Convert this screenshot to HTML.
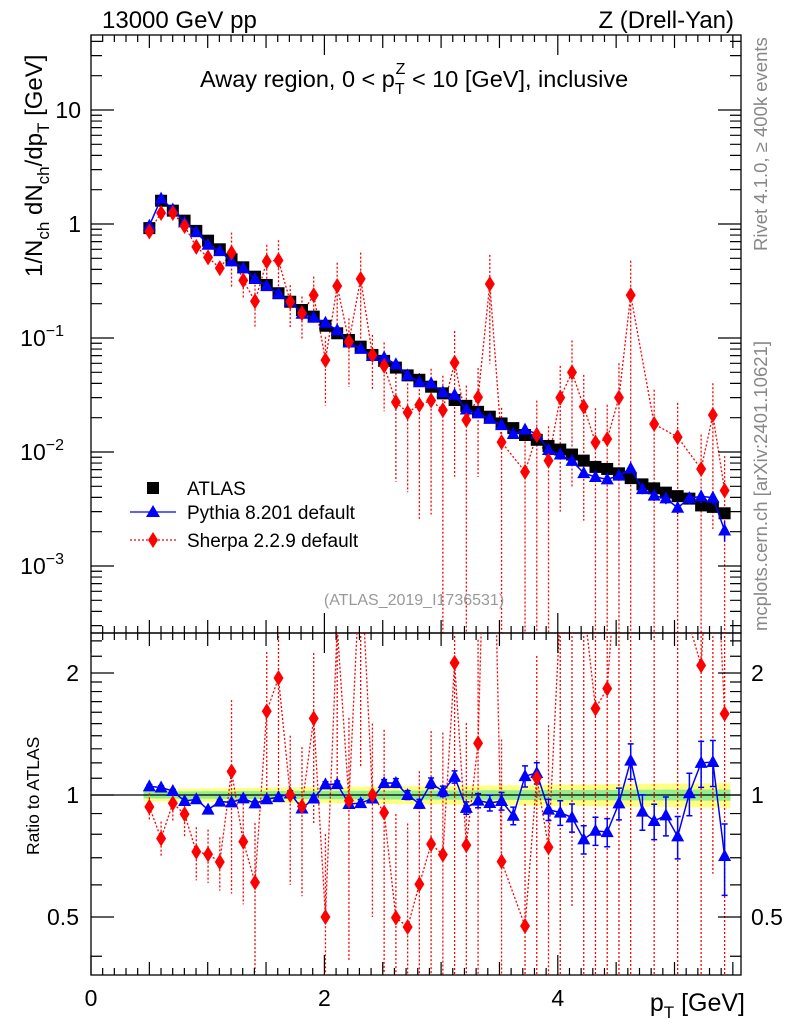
<!DOCTYPE html>
<html><head><meta charset="utf-8"><style>
html,body{margin:0;padding:0;background:#fff;width:786px;height:1024px;overflow:hidden;}
svg{display:block;font-family:"Liberation Sans",Arial,sans-serif;}
</style></head><body>
<svg id="chart" width="786" height="1024" viewBox="0 0 786 1024" xmlns="http://www.w3.org/2000/svg">
<rect x="0" y="0" width="786" height="1024" fill="#fff"/>
<g id="main-panel"></g>
<g id="ratio-panel"></g>
<text x="102" y="28" font-size="24">13000 GeV pp</text>
<text x="734" y="28" font-size="24" text-anchor="end">Z (Drell-Yan)</text>
<text x="200" y="87" font-size="23.5">Away region, 0 &lt; p<tspan font-size="16" dy="7">T</tspan><tspan font-size="16" dx="-9" dy="-20">Z</tspan><tspan dy="13"> &lt; 10 [GeV], inclusive</tspan></text>
<text transform="translate(42,277) rotate(-90)" font-size="24">1/N<tspan font-size="17" dy="7">ch</tspan><tspan dy="-7"> dN</tspan><tspan font-size="17" dy="7">ch</tspan><tspan dy="-7">/dp</tspan><tspan font-size="17" dy="7">T</tspan><tspan dy="-7"> [GeV]</tspan></text>
<text transform="translate(767,251) rotate(-90)" font-size="18.5" fill="#888">Rivet 4.1.0, ≥ 400k events</text>
<text transform="translate(767,631) rotate(-90)" font-size="18.5" fill="#888">mcplots.cern.ch [arXiv:2401.10621]</text>
<text x="414" y="605" font-size="16" fill="#999" text-anchor="middle">(ATLAS_2019_I1736531)</text>
<text transform="translate(39,855) rotate(-90)" font-size="17.5">Ratio to ATLAS</text>
<text x="745" y="1011" font-size="25" text-anchor="end">p<tspan font-size="17" dy="7">T</tspan><tspan dy="-7"> [GeV]</tspan></text>
<g>
<rect x="147" y="482" width="12" height="12" fill="#000"/>
<text x="187" y="495" font-size="19">ATLAS</text>
<line x1="130" y1="512" x2="176" y2="512" stroke="#00f" stroke-width="1.3"/>
<polygon points="153,505 146,517 160,517" fill="#00f"/>
<text x="187" y="519" font-size="19">Pythia 8.201 default</text>
<line x1="130" y1="540" x2="176" y2="540" stroke="#f00" stroke-width="1.3" stroke-dasharray="2,2"/>
<polygon points="153,532 158,540 153,548 148,540" fill="#f00"/>
<text x="187" y="547" font-size="19">Sherpa 2.2.9 default</text>
</g>
</svg>
<script>
const atlas=[0.92,1.6,1.31,1.07,0.87,0.714,0.60,0.49,0.417,0.345,0.292,0.247,0.208,0.176,0.154,0.128,0.110,0.096,0.084,0.071,0.063,0.055,0.047,0.043,0.0374,0.0327,0.0286,0.0254,0.0225,0.0204,0.0178,0.0162,0.0141,0.0128,0.0113,0.0105,0.0095,0.0084,0.0074,0.0071,0.0065,0.0059,0.0052,0.0048,0.0044,0.0041,0.0039,0.0034,0.0033,0.0029];
const pythia=[0.966,1.67,1.34,1.034,0.849,0.657,0.578,0.470,0.409,0.329,0.285,0.244,0.210,0.163,0.151,0.136,0.117,0.0912,0.0802,0.0696,0.0674,0.0589,0.047,0.0409,0.0400,0.0334,0.0317,0.0236,0.0218,0.0195,0.0172,0.0144,0.0157,0.0145,0.0104,0.0095,0.00836,0.00653,0.00604,0.00575,0.0062,0.00717,0.00473,0.00414,0.00392,0.00324,0.00394,0.00408,0.00398,0.00205];
const pythiaErr=[0.01,0.01,0.01,0.01,0.01,0.01,0.01,0.012,0.012,0.012,0.012,0.012,0.015,0.015,0.015,0.015,0.018,0.018,0.02,0.02,0.02,0.025,0.025,0.025,0.03,0.03,0.035,0.035,0.04,0.045,0.05,0.05,0.06,0.06,0.06,0.07,0.08,0.08,0.08,0.08,0.09,0.1,0.1,0.1,0.11,0.12,0.12,0.13,0.13,0.2];
const sherpa=[0.86,1.25,1.25,0.96,0.63,0.51,0.41,0.56,0.32,0.21,0.47,0.48,0.208,0.165,0.238,0.064,0.286,0.093,0.33,0.071,0.057,0.0274,0.0222,0.0259,0.0283,0.0233,0.0606,0.0191,0.0302,0.298,0.0122,null,0.0067,0.0141,0.0084,0.030,0.050,0.025,0.0121,0.0130,0.030,0.238,null,0.0176,null,0.0135,null,0.0071,0.0211,0.0046];
const sherpaErr=[0.08,0.1,0.1,0.12,0.15,0.15,0.15,0.5,0.3,0.4,0.4,0.5,0.4,0.4,0.45,0.6,0.6,0.6,0.7,0.5,0.6,0.8,0.8,0.9,0.9,1,0.9,1,0.8,0.8,1,1,1,1,1,0.9,0.9,0.9,1,1,1,1,1,1,1,1,1,1,0.9,1];
const xStart=0.5, xStep=0.1006;
const xTickLabels=["0","2","4"];
const yTickPowers=[-3,-2,-1,0,1];
const ratioTickLabels=["0.5","1","2"];

const NS="http://www.w3.org/2000/svg";
const L=91,R=741,T=35,MB=633,RB=975;
const X=v=>L+v*116.7;
const Y=v=>224-114*Math.log10(v);
const RY=r=>795-122*Math.log2(r);
const clampM=y=>Math.max(T-5,Math.min(MB+5,y));
const clampR=y=>Math.max(MB-5,Math.min(RB+5,y));
const svg=document.getElementById('chart');
const main=document.getElementById('main-panel'), rat=document.getElementById('ratio-panel');
function el(p,tag,a){const e=document.createElementNS(NS,tag);for(const k in a)e.setAttribute(k,a[k]);p.appendChild(e);return e;}
const xs=atlas.map((_,i)=>xStart+i*xStep);

const defs=el(svg,'defs',{});
const c1=el(defs,'clipPath',{id:'cm'});el(c1,'rect',{x:L,y:T,width:R-L,height:MB-T});
const c2=el(defs,'clipPath',{id:'cr'});el(c2,'rect',{x:L,y:MB,width:R-L,height:RB-MB});

const bandY=el(rat,'path',{fill:'#ffff80',d:''});


const bandG=el(rat,'path',{fill:'#90ee90',d:''});


let dy='',dg='';
xs.forEach((x,i)=>{const a=X(x-0.05),b=X(x+0.05);const ey=0.035+0.035*i/49,eg=0.02+0.012*i/49;
dy+=`M${a},${RY(1+ey)}H${b}V${RY(1-ey)}H${a}Z`;dg+=`M${a},${RY(1+eg)}H${b}V${RY(1-eg)}H${a}Z`;});
bandY.setAttribute('d',dy);bandG.setAttribute('d',dg);
const one=el(rat,'line',{x1:L,x2:R,y1:RY(1),y2:RY(1),stroke:'#000','stroke-width':1.2});



const f1=el(main,'rect',{x:L,y:T,width:R-L,height:MB-T,fill:'none',stroke:'#000','stroke-width':1.3});


const f2=el(rat,'rect',{x:L,y:MB,width:R-L,height:RB-MB,fill:'none',stroke:'#000','stroke-width':1.3});



let tk='';
for(let v=0;v<=5.5;v+=0.5){const x=X(v);const len=(v%2===0)?20:13;
tk+=`M${x},${T}v${len}M${x},${MB}v${-len}M${x},${MB}v${len}M${x},${RB}v${-len}`;}
for(let v=0.1;v<5.58;v+=0.1){const x=X(v);tk+=`M${x},${T}v7M${x},${MB}v-7M${x},${MB}v7M${x},${RB}v-7`;}
yTickPowers.forEach(p=>{for(let m=1;m<10;m++){const v=m*Math.pow(10,p);const y=Y(v);if(y<T||y>MB)continue;const len=m===1?23:11;tk+=`M${L},${y}h${len}M${R},${y}h${-len}`;}});
for(let m=3;m<10;m++){const y=Y(m*1e-4);if(y>=T&&y<=MB)tk+=`M${L},${y}h11M${R},${y}h-11`;}
[0.4,0.5,0.6,0.7,0.8,0.9,1,1.1,1.2,1.3,1.4,1.5,1.6,1.7,1.8,1.9,2,2.2,2.4].forEach(r=>{const y=RY(r);if(y<MB||y>RB)return;const len=(r===0.5||r===1||r===2)?23:11;tk+=`M${L},${y}h${len}M${R},${y}h${-len}`;});
const ticks=el(svg,'path',{d:tk,stroke:'#000','stroke-width':1.2,fill:'none'});



[0,2,4].forEach((v,i)=>{const t=el(svg,'text',{x:X(v),y:1006,'font-size':23,'text-anchor':'middle'});t.textContent=xTickLabels[i];

});
yTickPowers.forEach(p=>{const y=Y(Math.pow(10,p));const t=el(main,'text',{x:p>=0?81:64,y:y+8,'font-size':23,'text-anchor':'end'});


if(p===0)t.textContent='1';else if(p===1)t.textContent='10';else{t.textContent='10';const s=el(t,'tspan',{dy:-10,'font-size':16});s.textContent=String(p).replace('-','−');}});
[0.5,1,2].forEach((r,i)=>{const y=RY(r)+8;
const a=el(rat,'text',{x:79,y:y,'font-size':23,'text-anchor':'end'});a.textContent=ratioTickLabels[i];


const b=el(rat,'text',{x:751,y:y,'font-size':23});b.textContent=ratioTickLabels[i];

});

const gm=el(main,'g',{'clip-path':'url(#cm)'});
const gr=el(rat,'g',{'clip-path':'url(#cr)'});
let sl='',se='',rl='',re='';
xs.forEach((x,i)=>{const v=sherpa[i];if(v==null)return;const px=X(x);
sl+=(sl?'L':'M')+px+','+Y(v);
const lo=Math.max(v*(1-sherpaErr[i]),1e-9),hi=v*(1+sherpaErr[i]);se+=`M${px},${clampM(Y(hi))}V${clampM(Y(lo))}`;
const r=v/atlas[i];rl+=(rl?'L':'M')+px+','+RY(r);
re+=`M${px},${clampR(RY(hi/atlas[i]))}V${clampR(RY(lo/atlas[i]))}`;});
[[gm,sl,se,'sherpa'],[gr,rl,re,'sherpa-ratio']].forEach(([g,l,e,n])=>{
const a=el(g,'path',{d:e,stroke:'#f00','stroke-width':1.3,'stroke-dasharray':'2,2',fill:'none'});


const b=el(g,'path',{d:l,stroke:'#f00','stroke-width':1.3,'stroke-dasharray':'2,2',fill:'none'});

});
xs.forEach((x,i)=>{const s=el(gm,'rect',{x:X(x)-6,y:Y(atlas[i])-6,width:12,height:12,fill:'#000'});

});
let pl='',pe='',ql='',qe='';
xs.forEach((x,i)=>{const px=X(x),v=pythia[i],e=pythiaErr[i];
pl+=(pl?'L':'M')+px+','+Y(v);pe+=`M${px},${Y(v*(1+e))}V${Y(v*(1-e))}`;
const r=v/atlas[i];ql+=(ql?'L':'M')+px+','+RY(r);qe+=`M${px},${RY(r+e*r)}V${RY(r-e*r)}M${px-3},${RY(r+e*r)}h6M${px-3},${RY(r-e*r)}h6`;});
[[gm,pl,pe,'pythia'],[gr,ql,qe,'pythia-ratio']].forEach(([g,l,e,n])=>{
const a=el(g,'path',{d:e,stroke:'#00f','stroke-width':1.5,fill:'none'});


const b=el(g,'path',{d:l,stroke:'#00f','stroke-width':1.5,fill:'none'});

});
function tri(g,px,py,name){const t=el(g,'polygon',{points:`${px},${py-7} ${px-6.5},${py+5} ${px+6.5},${py+5}`,fill:'#00f'});

}
function dia(g,px,py,name){const t=el(g,'polygon',{points:`${px},${py-8} ${px+5},${py} ${px},${py+8} ${px-5},${py}`,fill:'#f00'});

}
xs.forEach((x,i)=>{const px=X(x);tri(gm,px,Y(pythia[i]),'pythia-point');tri(gr,px,RY(pythia[i]/atlas[i]),'pythia-ratio-point');
if(sherpa[i]!=null){dia(gm,px,Y(sherpa[i]),'sherpa-point');dia(gr,px,RY(sherpa[i]/atlas[i]),'sherpa-ratio-point');}});
</script>
</body></html>
